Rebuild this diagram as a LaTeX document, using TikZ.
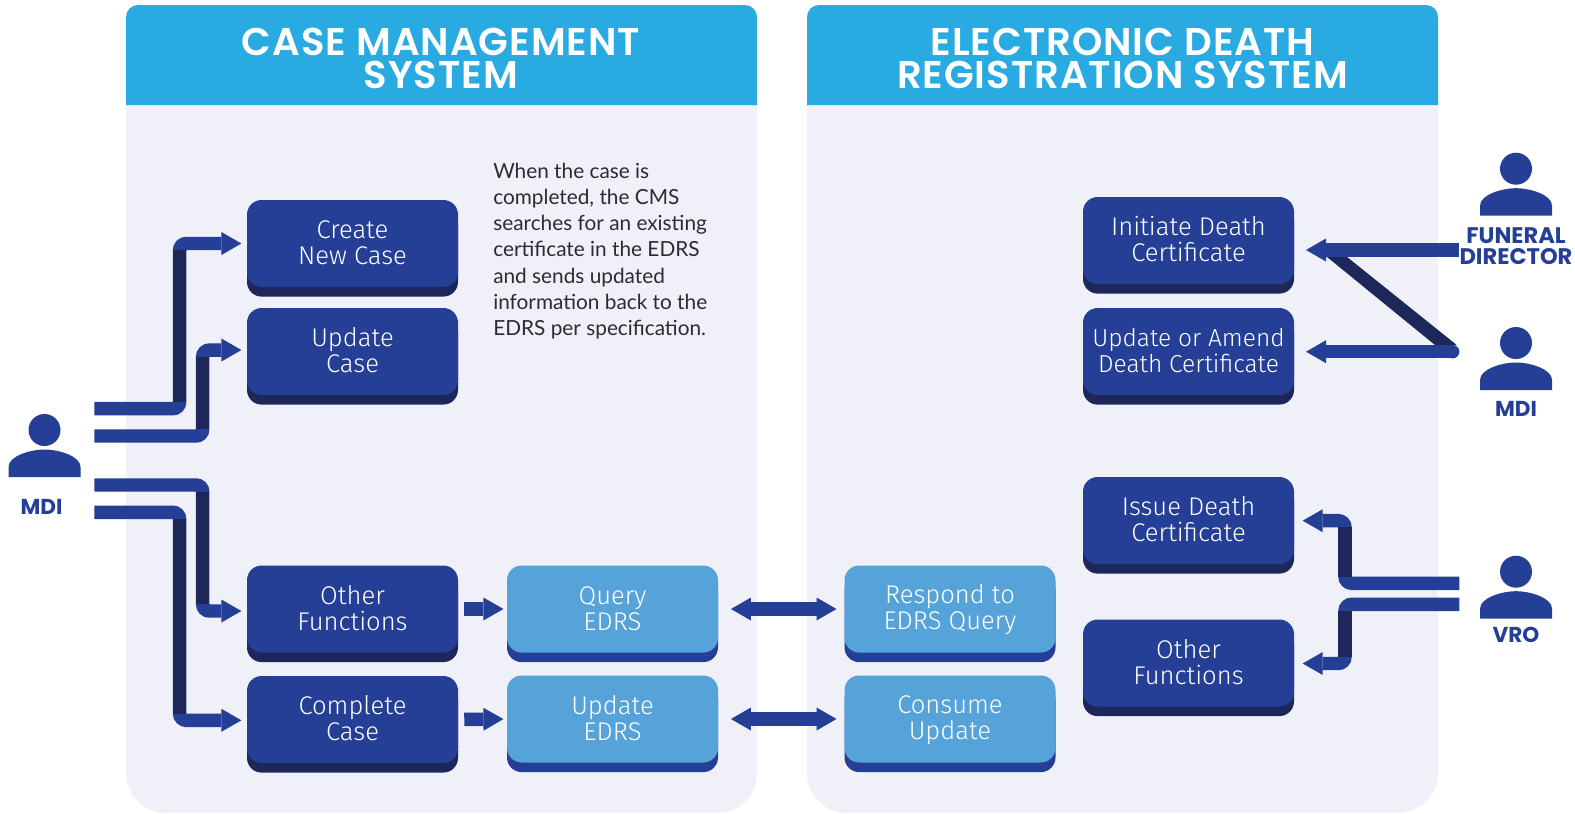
\documentclass[tikz,border=0pt]{standalone}
\usepackage{fontspec}
\usetikzlibrary{arrows.meta,shadows,calc}
\setmainfont{Lato}
\newfontfamily\boxfont{Fira Sans Light}
\newfontfamily\headfont[LetterSpace=2.5]{Poppins SemiBold}
\newfontfamily\whofont{Poppins}[BoldFont={Poppins Bold}]
\definecolor{navy}{HTML}{243F95}
\definecolor{deep}{HTML}{1E2759}
\definecolor{sky}{HTML}{56A3DA}
\definecolor{cyanhdr}{HTML}{29ABE2}
\definecolor{pale}{HTML}{EFF0F8}
\definecolor{ink}{HTML}{2B2B33}
\newcommand\twolines[2]{\rule[-3.5pt]{0pt}{19pt}#1\\\rule[-3.5pt]{0pt}{19pt}#2}
\tikzset{
 x=0.75pt,y=-0.75pt,
 tip/.tip={Triangle[length=15pt,width=17.25pt,line width=0pt]},
 basebox/.style={rectangle,rounded corners=11pt,minimum width=158.25pt,minimum height=65.25pt,inner sep=0pt,align=center,text=white,font=\boxfont\fontsize{19.2}{19.5}\selectfont},
 darkbox/.style={basebox,fill=navy,general shadow={fill=deep,shadow yshift=-7.2pt}},
 lightbox/.style={basebox,fill=sky,general shadow={fill=navy,shadow yshift=-7.2pt}},
 flow/.style={draw=navy,line width=10.1pt,rounded corners=5.06pt,-{tip}},
 riser/.style={draw=deep,line width=10.1pt},
 short/.style={draw=navy,line width=10.1pt,-{tip}},
 both/.style={draw=navy,line width=10.1pt,{tip}-{tip}},
 panelbg/.style={fill=pale,rounded corners=30pt},
 headbg/.style={fill=cyanhdr},
 headtext/.style={text=white,align=center,inner sep=0pt,font=\headfont\fontsize{29}{24.75}\selectfont},
 who/.style={text=navy,align=center,inner sep=0pt,font=\whofont\bfseries\fontsize{16.2}{15.75}\selectfont},
 person/.pic={
  \fill[navy] (0,-47) circle[radius=16];
  \fill[navy] (-36,0) -- (-36,-10) .. controls (-36,-21) and (-14,-27.5) .. (0,-27.5) .. controls (14,-27.5) and (36,-21) .. (36,-10) -- (36,0) -- cycle;
 }
}
\begin{document}
\begin{tikzpicture}
\useasboundingbox (0,0) rectangle (1575,814);
% panels
\fill[panelbg] (126,60) -- (126,813) -- (757,813) -- (757,60) -- cycle;
\fill[panelbg] (807,60) -- (807,813) -- (1438,813) -- (1438,60) -- cycle;
\fill[headbg] (126,105) [rounded corners=9pt] -- (126,5) -- (757,5) [sharp corners] -- (757,105) -- cycle;
\fill[headbg] (807,105) [rounded corners=9pt] -- (807,5) -- (1438,5) [sharp corners] -- (1438,105) -- cycle;
\node[headtext] (cms) at (441,58) {CASE MANAGEMENT\\SYSTEM};
\node[headtext] (edrs) at (1122.5,58) {ELECTRONIC DEATH\\REGISTRATION SYSTEM};
% note
\node[anchor=north west,align=left,inner sep=0pt,text=ink,font=\fontsize{15.6}{19.6}\selectfont] (note) at (493,163) {When the case is\\completed, the CMS\\searches for an existing\\certificate in the EDRS\\and sends updated\\information back to the\\EDRS per specification.};
% boxes
\node[darkbox] (create) at (352.5,243.5) {\twolines{Create}{New Case}};
\node[darkbox] (update) at (352.5,351.5) {\twolines{Update}{Case}};
\node[darkbox] (other) at (352.5,609) {\twolines{Other}{Functions}};
\node[darkbox] (complete) at (352.5,719.5) {\twolines{Complete}{Case}};
\node[lightbox] (query) at (612.5,609) {\twolines{Query}{EDRS}};
\node[lightbox] (updedrs) at (612.5,719) {\twolines{Update}{EDRS}};
\node[lightbox] (respond) at (950,609) {\twolines{Respond to}{EDRS Query}};
\node[lightbox] (consume) at (950,719) {\twolines{Consume}{Update}};
\node[darkbox] (initiate) at (1188.5,240.5) {\twolines{Initiate Death}{Certificate}};
\node[darkbox,font=\boxfont\fontsize{18.4}{19.5}\selectfont] (amend) at (1188.5,351.5) {\twolines{Update or Amend}{Death Certificate}};
\node[darkbox] (issue) at (1188.5,520.5) {\twolines{Issue Death}{Certificate}};
\node[darkbox] (otherr) at (1188.5,663) {\twolines{Other}{Functions}};
% people
\pic at (44.5,477) {person};
\pic at (1516,215.7) {person};
\pic at (1516,390) {person};
\pic at (1516,618.7) {person};
\node[who] (lmdi) at (41.5,507) {MDI};
\node[who,font=\whofont\bfseries\fontsize{16.9}{15.75}\selectfont] (fd) at (1516,246) {FUNERAL\\DIRECTOR};
\node[who] (rmdi) at (1516,408.7) {MDI};
\node[who] (vro) at (1516,635) {VRO};
% free ends
\coordinate (s1) at (94.3,408.7);
\coordinate (s2) at (94.3,436);
\coordinate (s3) at (94.3,485);
\coordinate (s4) at (94.3,512.3);
\coordinate (v1) at (179.6,0);
\coordinate (v2) at (202.7,0);
\coordinate (e2) at ([yshift=1.1pt]update.west);
\coordinate (e3) at ([yshift=-1.5pt]other.west);
\coordinate (e4) at ([yshift=-0.6pt]complete.west);
% left connectors
\draw[flow,shorten >=4pt] (s1) -| (v1 |- create.west) -- (create.west);
\draw[flow,shorten >=4pt] (s2) -| (v2 |- e2) -- (e2);
\draw[flow,shorten >=4pt] (s3) -| (v2 |- e3) -- (e3);
\draw[flow,shorten >=4pt] (s4) -| (v1 |- e4) -- (e4);
\coordinate (r1a) at (179.6,250); \coordinate (r1b) at (179.6,402);
\coordinate (r2a) at (202.7,356.7); \coordinate (r2b) at (202.7,429.3);
\coordinate (r3a) at (202.7,491.7); \coordinate (r3b) at (202.7,604.3);
\coordinate (r4a) at (179.6,519); \coordinate (r4b) at (179.6,713.7);
\draw[riser] (r1a) -- (r1b);
\draw[riser] (r2a) -- (r2b);
\draw[riser] (r3a) -- (r3b);
\draw[riser] (r4a) -- (r4b);
% middle connectors
\draw[short,shorten <=4.5pt,shorten >=2.5pt] (other.east) -- (query.west);
\draw[short,shorten <=4.5pt,shorten >=2.5pt] (complete.east) -- (updedrs.west);
\draw[both,shorten <=9.5pt,shorten >=5.8pt] (query.east) -- (respond.west);
\draw[both,shorten <=9.5pt,shorten >=5.8pt] (updedrs.east) -- (consume.west);
% right connectors, top
\coordinate (fs) at (1459.3,250);
\coordinate (ft) at (1306,250);
\coordinate (ms) at (1452.6,351.7);
\coordinate (mt) at (1306,351.7);
\coordinate (da) at (1326.7,256.7);
\coordinate (db) at (1346.7,256.7);
\coordinate (dc) at (1456.7,345);
\coordinate (dd) at (1435,345);
\fill[deep] (da) -- (db) -- (dc) -- (dd) -- cycle;
\draw[short] (fs) -- (ft);
\draw[short] (ms) -- (mt);
\fill[navy] (ms) circle[radius=6.75];
% right connectors, bottom
\coordinate (vs) at (1459.3,583.3);
\coordinate (ws) at (1459.3,604.3);
\coordinate (v3) at (1345,0);
\coordinate (it) at (1302.7,520.7);
\coordinate (ot) at (1302.7,663.5);
\draw[flow] (vs) -| (v3 |- it) -- (it);
\draw[flow] (ws) -| (v3 |- ot) -- (ot);
\coordinate (r5a) at (1345,527.3); \coordinate (r5b) at (1345,576.7);
\coordinate (r6a) at (1345,611); \coordinate (r6b) at (1345,656.7);
\draw[riser] (r5a) -- (r5b);
\draw[riser] (r6a) -- (r6b);
\end{tikzpicture}
\end{document}
